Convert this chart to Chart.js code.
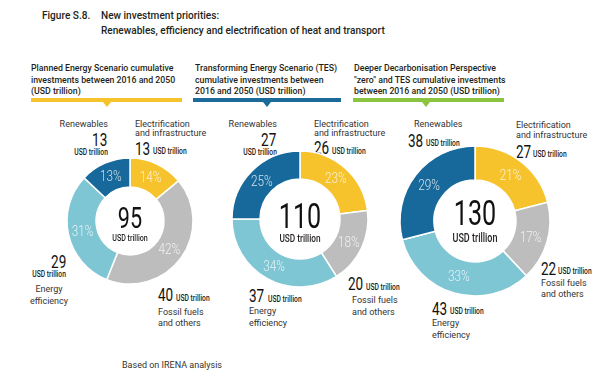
<!DOCTYPE html>
<html>
<head>
<meta charset="utf-8">
<script src="https://cdn.jsdelivr.net/npm/chart.js@4.4.0/dist/chart.umd.min.js"></script>
<style>
  body { margin: 0; background: #fff; }
  #wrap { position: relative; width: 597px; height: 376px; overflow: hidden; font-family: Roboto, "Liberation Sans", sans-serif; color: #231f20; }
  .t { position: absolute; white-space: nowrap; line-height: 1; }
  .bar { position: absolute; height: 4px; }
  .tip { position: absolute; width: 0; height: 0; border-left: 4px solid transparent; border-right: 4px solid transparent; border-top: 5px solid; }
  canvas { position: absolute; }
</style>
</head>
<body>
<div id="wrap"></div>
<script>
// ---- data ----
const categories = ['Electrification and infrastructure', 'Fossil fuels and others', 'Energy efficiency', 'Renewables'];
const categoryLines = [['Electrification', 'and infrastructure'], ['Fossil fuels', 'and others'], ['Energy', 'efficiency'], ['Renewables']];
const totals = [95, 110, 130];
const plannedUsd = [13, 40, 29, 13];
const tesUsd = [26, 20, 37, 27];
const ddpUsd = [27, 22, 43, 38];
const plannedPct = [14, 42, 31, 13];
const tesPct = [23, 18, 34, 25];
const ddpPct = [21, 17, 33, 29];
const headers = [
    ['Planned Energy Scenario cumulative', 'investments between 2016 and 2050', '(USD trillion)'],
    ['Transforming Energy Scenario (TES)', 'cumulative investments between', '2016 and 2050 (USD trillion)'],
    ['Deeper Decarbonisation Perspective', '"zero" and TES cumulative investments', 'between 2016 and 2050 (USD trillion)']
];
const unit = 'USD trillion';

const colours = ['#f6c32c', '#bdbdbd', '#7ec6d3', '#18699b'];
const headerColours = ['#f6c32c', '#1a6b99', '#8cc43f'];

const usd = [plannedUsd, tesUsd, ddpUsd];
const pct = [plannedPct, tesPct, ddpPct];

// ---- layout ----
const wrap = document.getElementById('wrap');

function put(text, x, y, opts) {
    const d = document.createElement('div');
    d.className = 't';
    d.textContent = text;
    const o = Object.assign({ size: 9, weight: 400, align: 'l', sx: 1, color: '#231f20' }, opts || {});
    d.style.fontSize = o.size + 'px';
    d.style.fontWeight = o.weight;
    d.style.color = o.color;
    d.style.top = y + 'px';
    if (o.align === 'r') {
        d.style.right = (597 - x) + 'px';
        d.style.transformOrigin = 'right center';
        d.style.transform = 'translateY(-50%) scaleX(' + o.sx + ')';
    } else if (o.align === 'c') {
        d.style.left = x + 'px';
        d.style.transformOrigin = 'center center';
        d.style.transform = 'translate(-50%,-50%) scaleX(' + o.sx + ')';
    } else {
        d.style.left = x + 'px';
        d.style.transformOrigin = 'left center';
        d.style.transform = 'translateY(-50%) scaleX(' + o.sx + ')';
    }
    wrap.appendChild(d);
}

// title
put('Figure S.8.', 42, 16, { size: 10.5, weight: 500, sx: 0.96 });
put('New investment priorities:', 101, 16, { size: 10.5, weight: 500, sx: 0.96 });
put('Renewables, efficiency and electrification of heat and transport', 101, 31, { size: 10.5, weight: 500, sx: 0.96 });

// panel headers
const headerX = [31, 195, 354];
const barSpan = [[31, 182], [193, 341], [353, 504]];
const tipX = [107, 267, 426];
headers.forEach((lines, p) => {
    lines.forEach((s, i) => put(s, headerX[p], 68 + i * 11.7, { size: 9.5, weight: 500, sx: 0.92 }));
    const b = document.createElement('div');
    b.className = 'bar';
    b.style.left = barSpan[p][0] + 'px';
    b.style.width = (barSpan[p][1] - barSpan[p][0]) + 'px';
    b.style.top = '98px';
    b.style.background = headerColours[p];
    wrap.appendChild(b);
    const t = document.createElement('div');
    t.className = 'tip';
    t.style.left = (tipX[p] - 4) + 'px';
    t.style.top = '102px';
    t.style.borderTopColor = headerColours[p];
    wrap.appendChild(t);
});

// donut geometry
const donuts = [
    { cx: 130, cy: 221, R: 63, r: 34, big: 30, numY: 218, unitSize: 9.5 },
    { cx: 300, cy: 219, R: 68, r: 40, big: 35, numY: 216, unitSize: 11 },
    { cx: 475, cy: 221, R: 75, r: 41, big: 35, numY: 213, unitSize: 12 }
];

// callout positions per panel, per category: [x, y, align] for number, unit, name; lh = name line height
const callouts = [
    [
        { num: [135, 149, 'l'], unit: [153, 151, 'l'], name: [135, 124, 'l'], lh: 9 },
        { num: [158, 295, 'l'], unit: [176, 298, 'l'], name: [158, 312, 'l'], lh: 11 },
        { num: [66, 262, 'r'], unit: [66, 274, 'r'], name: [49, 289, 'c'], lh: 11.5 },
        { num: [107, 140, 'r'], unit: [108, 152, 'r'], name: [108, 124, 'r'], lh: 9 }
    ],
    [
        { num: [314, 148, 'l'], unit: [332, 151, 'l'], name: [314, 124, 'l'], lh: 9 },
        { num: [348, 284, 'l'], unit: [366, 287, 'l'], name: [352, 300, 'l'], lh: 11.7 },
        { num: [249, 296, 'l'], unit: [268, 299, 'l'], name: [249, 311, 'l'], lh: 11.7 },
        { num: [276, 140, 'r'], unit: [277, 152, 'r'], name: [277, 124, 'r'], lh: 9 }
    ],
    [
        { num: [516, 152, 'l'], unit: [533, 154, 'l'], name: [516, 125, 'l'], lh: 9.7 },
        { num: [541, 269, 'l'], unit: [558, 271, 'l'], name: [541, 283, 'l'], lh: 11 },
        { num: [432, 309, 'l'], unit: [450, 311, 'l'], name: [432, 323, 'l'], lh: 11.5 },
        { num: [408, 141, 'l'], unit: [426, 143, 'l'], name: [414, 124, 'l'], lh: 9 }
    ]
];

callouts.forEach((list, p) => {
    list.forEach((c, k) => {
        put(String(usd[p][k]), c.num[0], c.num[1], { size: 18, align: c.num[2], sx: 0.75, color: '#111' });
        put(unit, c.unit[0], c.unit[1], { size: 9, weight: 500, align: c.unit[2], sx: 0.75 });
        categoryLines[k].forEach((s, i) => put(s, c.name[0], c.name[1] + i * c.lh, { size: 9, align: c.name[2], color: '#333' }));
    });
});

// percentage labels inside the arcs
const pctLabels = {
    id: 'pctLabels',
    afterDatasetsDraw(chart) {
        const ctx = chart.ctx;
        const meta = chart.getDatasetMeta(0);
        const vals = chart.data.datasets[0].data;
        ctx.save();
        ctx.fillStyle = 'rgba(255,255,255,0.8)';
        ctx.textAlign = 'center';
        ctx.textBaseline = 'middle';
        ctx.font = '300 15px Roboto';
        meta.data.forEach((arc, i) => {
            const p = arc.getProps(['x', 'y', 'startAngle', 'endAngle', 'innerRadius', 'outerRadius'], true);
            const a = (p.startAngle + p.endAngle) / 2;
            const rr = (p.innerRadius + p.outerRadius) / 2;
            ctx.save();
            ctx.translate(p.x + Math.cos(a) * rr, p.y + Math.sin(a) * rr);
            ctx.scale(0.78, 1);
            ctx.fillText(vals[i] + '%', 0, 1);
            ctx.restore();
        });
        ctx.restore();
    }
};

donuts.forEach((d, p) => {
    const size = 2 * d.R + 12;
    const cv = document.createElement('canvas');
    cv.width = size;
    cv.height = size;
    cv.style.left = (d.cx - size / 2) + 'px';
    cv.style.top = (d.cy - size / 2) + 'px';
    wrap.appendChild(cv);
    new Chart(cv, {
        type: 'doughnut',
        data: {
            labels: categories,
            datasets: [{
                data: pct[p],
                backgroundColor: colours,
                borderColor: '#ffffff',
                borderWidth: 1.5,
                hoverOffset: 0
            }]
        },
        options: {
            responsive: false,
            animation: false,
            radius: d.R,
            cutout: (d.r / d.R * 100) + '%',
            layout: { padding: 0 },
            plugins: { legend: { display: false }, tooltip: { enabled: false } }
        },
        plugins: [pctLabels]
    });
    put(String(totals[p]), d.cx, d.numY, { size: d.big, align: 'c', sx: 0.72, color: '#111' });
    put(unit, d.cx, 238, { size: d.unitSize, weight: 500, align: 'c', sx: 0.75 });
});

put('Based on IRENA analysis', 122, 365, { size: 9, color: '#333' });
</script>
</body>
</html>
